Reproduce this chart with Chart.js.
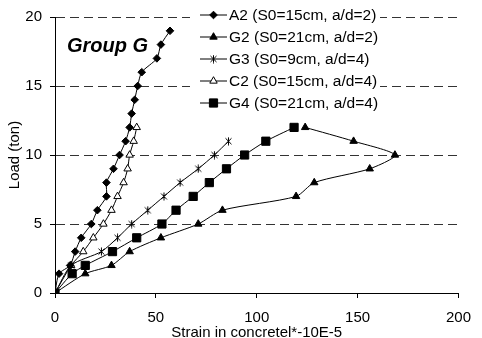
<!DOCTYPE html>
<html><head><meta charset="utf-8">
<script src="https://cdn.jsdelivr.net/npm/chart.js@4.4.0/dist/chart.umd.min.js"></script>
<style>html,body{margin:0;padding:0;background:#fff;}#wrap{width:482px;height:338px;position:relative;}</style>
</head><body><div id="wrap"><canvas id="c" width="482" height="338"></canvas></div>
<script>
const seriesNames = ['A2 (S0=15cm, a/d=2)','G2 (S0=21cm, a/d=2)','G3 (S0=9cm, a/d=4)','C2 (S0=15cm, a/d=4)','G4 (S0=21cm, a/d=4)'];
const a2Strain = [0,2,7.5,10,13,18,21,25.5,25.5,29,32,35,37,38,39.5,41,43,50.5,52.5,57];
const a2Load   = [0,1.4,2,3,4,5,6,7,8,9,10,11,12,13,14,15,16,17,18,19];
const g2Strain = [0,15,28,37,52.5,71,83,119.5,128.5,156,168.5,148,124];
const g2Load   = [0,1.4,2,3,4,5,6,7,8,9,10,11,12];
const g3Strain = [0,8,23,31,38,46,54,62,71,79,86];
const g3Load   = [0,2,3,4,5,6,7,8,9,10,11];
const c2Strain = [0,8,14,19,24,28,31,34,36,37,39,40.5];
const c2Load   = [0,2,3,4,5,6,7,8,9,10,11,12];
const g4Strain = [0,8.5,15,28.5,40.5,53,60,68.5,76.5,85,94,104.5,118.5];
const g4Load   = [0,1.4,2,3,4,5,6,7,8,9,10,11,12];
const xTicks = [0,50,100,150,200];
const yTicks = [0,5,10,15,20];
const groupLabel = 'Group G';
const xTitle = 'Strain in concretel*-10E-5';
const yTitle = 'Load (ton)';

const FONT = '"Liberation Sans", Arial, sans-serif';
function pts(xs, ys){ return xs.map((x,i)=>({x:x, y:ys[i]})); }

// asterisk marker (x with vertical bar)
const star = document.createElement('canvas');
star.width = 9; star.height = 9;
(function(){
  const c = star.getContext('2d');
  c.strokeStyle = '#000'; c.lineWidth = 1;
  c.beginPath();
  c.moveTo(1.5,1.5); c.lineTo(7.5,7.5);
  c.moveTo(7.5,1.5); c.lineTo(1.5,7.5);
  c.moveTo(4.5,0.5); c.lineTo(4.5,8.5);
  c.stroke();
})();

const styles = [
  {pointStyle:'rectRot', radius:3.8, bg:'#000'},
  {pointStyle:'triangle', radius:4.3, bg:'#000'},
  {pointStyle:star, radius:4, bg:'#000'},
  {pointStyle:'triangle', radius:4.3, bg:'#fff'},
  {pointStyle:'rect', radius:5.8, bg:'#000'}
];
const allData = [pts(a2Strain,a2Load), pts(g2Strain,g2Load), pts(g3Strain,g3Load), pts(c2Strain,c2Load), pts(g4Strain,g4Load)];

const datasets = allData.map((d,i)=>({
  label: seriesNames[i],
  data: d,
  showLine: true,
  borderColor: '#000',
  borderWidth: 1,
  tension: 0.25,
  pointStyle: styles[i].pointStyle,
  pointRadius: styles[i].radius,
  pointHoverRadius: styles[i].radius,
  pointBackgroundColor: styles[i].bg,
  pointBorderColor: '#000',
  pointBorderWidth: 1
}));

const overlay = {
  id: 'overlay',
  afterDraw(chart){
    const ctx = chart.ctx;
    ctx.save();
    ctx.fillStyle = '#fff';
    ctx.fillRect(190, 4, 190, 110);
    chart.data.datasets.forEach((ds,i)=>{
      const y = 15 + i*22;
      ctx.strokeStyle = '#000'; ctx.lineWidth = 1; ctx.setLineDash([]);
      ctx.beginPath(); ctx.moveTo(200, y); ctx.lineTo(227, y); ctx.stroke();
      ctx.fillStyle = ds.pointBackgroundColor;
      Chart.helpers.drawPoint(ctx, {pointStyle: ds.pointStyle, radius: ds.pointRadius, borderWidth: 1, rotation: 0}, 213.5, y);
      ctx.fillStyle = '#000';
      ctx.font = '15.5px ' + FONT;
      ctx.textBaseline = 'middle';
      ctx.textAlign = 'left';
      ctx.fillText(ds.label, 229, y + 1);
    });
    ctx.font = 'italic bold 20px ' + FONT;
    ctx.textBaseline = 'alphabetic';
    ctx.fillText(groupLabel, 67, 52);
    ctx.restore();
  }
};

new Chart(document.getElementById('c'), {
  type: 'scatter',
  data: { datasets },
  plugins: [overlay],
  options: {
    responsive: false,
    animation: false,
    layout: { padding: { top: 14, right: 20, left: 0, bottom: 0 } },
    plugins: { legend: { display: false }, tooltip: { enabled: false } },
    scales: {
      x: {
        type: 'linear', min: 0, max: 200,
        afterBuildTicks: s => { s.ticks = xTicks.map(v => ({value: v})); },
        afterFit: s => { s.height = 45; },
        grid: { drawOnChartArea: false, drawTicks: true, tickLength: 5, color: '#000' },
        border: { display: true, color: '#000', width: 1 },
        ticks: { color: '#000', font: { size: 15, family: FONT }, padding: 11, maxRotation: 0 },
        title: { display: true, text: xTitle, color: '#000', font: { size: 15, family: FONT }, padding: { top: 0, bottom: -4 } }
      },
      y: {
        type: 'linear', min: 0, max: 20,
        afterBuildTicks: s => { s.ticks = yTicks.map(v => ({value: v})); },
        afterFit: s => { s.width = 55; },
        grid: { drawOnChartArea: true, drawTicks: true, tickLength: 5,
          color: c => c.tick && c.tick.value === 0 ? 'rgba(0,0,0,0)' : '#333',
          tickColor: '#000' },
        border: { display: true, color: '#000', width: 1, dash: [9,5] },
        ticks: { color: '#000', font: { size: 15, family: FONT }, padding: 8 },
        title: { display: true, text: yTitle, color: '#000', font: { size: 15, family: FONT }, padding: { top: 6, bottom: 0 } }
      }
    }
  }
});
</script></body></html>
